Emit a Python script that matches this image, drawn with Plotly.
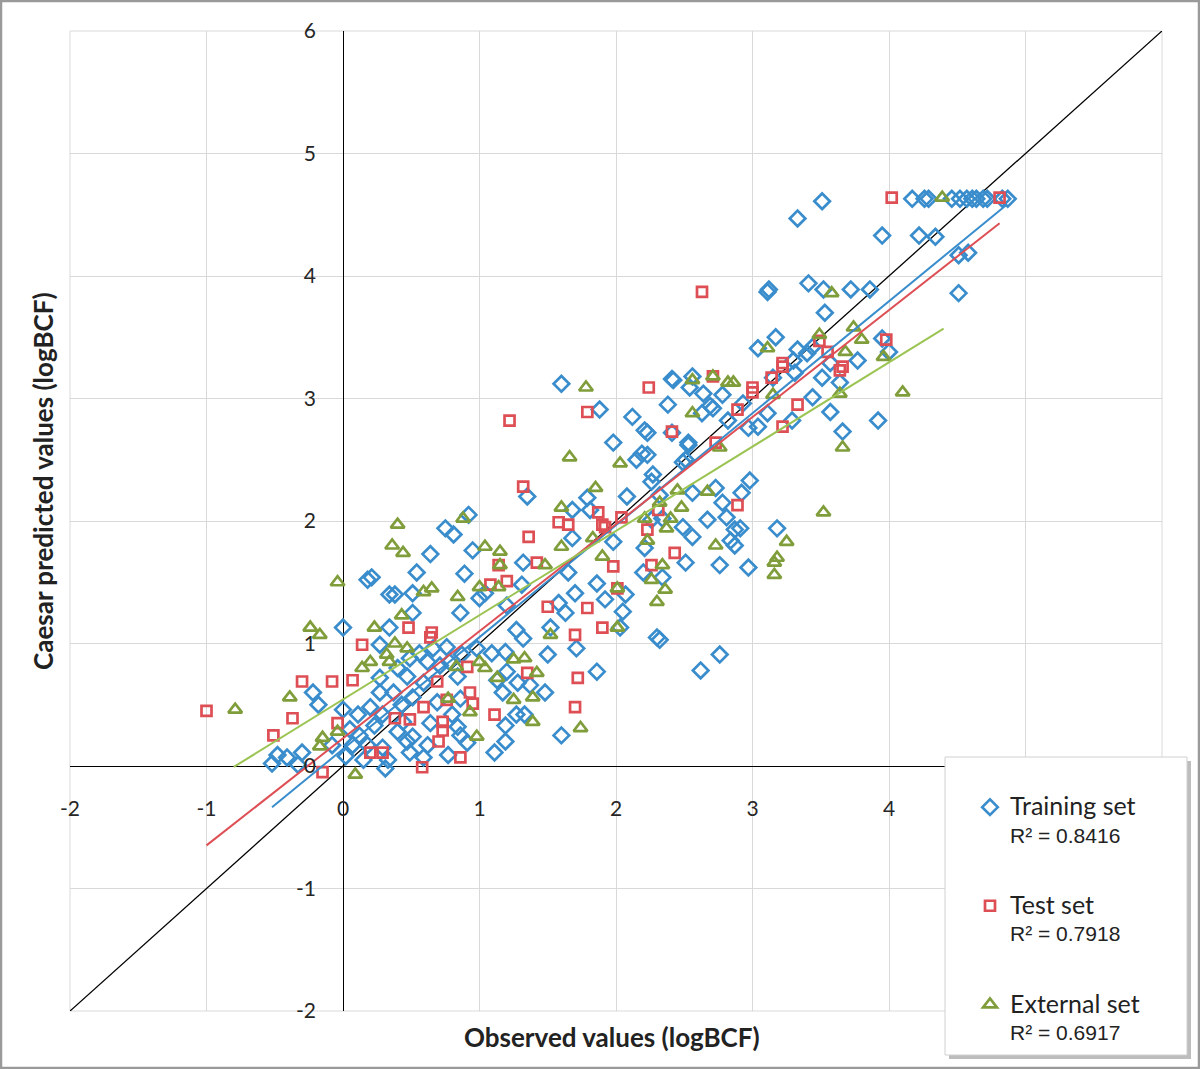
import plotly.graph_objects as go

# ---------------- data ----------------
train_x = [4.17,4.26,4.29,4.46,4.52,4.57,4.61,4.64,4.69,4.72,4.83,4.87,
           3.51,3.33,3.95,4.22,4.34,4.51,4.58,4.51,
           3.11,3.12,3.41,3.52,3.72,3.86,3.53,3.17,3.04,3.95,4.00,
           3.33,3.40,3.30,3.57,3.77,3.44,
           3.15,3.31,3.51,3.64,3.44,3.57,3.66,3.92,3.11,3.04,2.97,3.29,2.98,2.92,3.18,2.91,2.97,
           1.60,1.88,2.41,2.42,2.56,2.54,2.64,2.78,2.69,2.71,2.38,2.63,2.12,2.21,2.23,2.41,1.98,2.53,2.82,2.93,
           2.19,2.23,2.15,2.53,2.49,2.27,2.26,1.79,2.08,2.32,2.56,2.73,1.68,1.81,2.34,2.26,2.67,2.78,2.81,
           2.87,2.84,2.87,2.76,2.49,2.56,1.68,1.98,2.21,2.20,2.51,1.65,1.86,2.34,1.70,1.92,2.07,1.58,2.05,
           1.63,2.03,2.30,2.51,
           2.32,1.71,1.86,1.60,2.62,2.76,
           0.92,0.75,0.81,0.64,0.95,1.35,1.32,0.54,0.89,0.21,0.18,0.34,0.38,0.51,1.00,1.04,1.31,1.20,0.51,
           0.86,0.34,1.27,1.52,
           0.27,0.56,0.66,0.76,0.87,0.98,1.09,1.19,1.32,1.50,1.20,0.78,0.71,0.62,0.49,0.40,0.27,0.47,0.59,
           0.84,1.13,1.28,1.37,1.48,1.17,0.27,0.37,0.51,0.86,0.69,0.43,0.20,0.29,0.44,0.80,1.27,1.33,1.19,
           0.64,0.23,0.40,0.84,0.86,0.51,0.47,0.62,0.91,1.19,1.11,0.29,0.49,0.77,0.59,0.33,0.31,
           0.00,-0.22,-0.18,0.00,0.11,-0.48,-0.52,-0.41,-0.30,-0.33,-0.08,0.07,0.18,
           0.05,0.12,0.02,0.15]
train_y = [4.63,4.63,4.63,4.63,4.63,4.63,4.63,4.63,4.63,4.63,4.63,4.63,
           4.61,4.47,4.33,4.33,4.32,4.17,4.19,3.86,
           3.87,3.89,3.94,3.89,3.89,3.89,3.70,3.50,3.41,3.49,3.38,
           3.40,3.37,3.31,3.29,3.31,3.42,
           3.17,3.21,3.17,3.13,3.01,2.89,2.73,2.82,2.88,2.77,2.76,2.82,2.33,2.23,1.94,1.94,1.62,
           3.12,2.91,3.16,3.15,3.18,3.09,3.04,3.03,2.94,2.92,2.95,2.88,2.85,2.74,2.72,2.72,2.64,2.64,2.82,2.96,
           2.55,2.54,2.50,2.62,2.48,2.38,2.32,2.19,2.20,2.21,2.23,2.27,2.09,2.09,2.02,2.01,2.01,2.15,2.03,
           1.93,1.84,1.80,1.64,1.95,1.87,1.86,1.83,1.78,1.58,1.66,1.58,1.49,1.54,1.41,1.36,1.40,1.33,1.26,
           1.25,1.13,1.05,2.50,
           1.03,0.96,0.77,0.25,0.78,0.91,
           2.05,1.94,1.89,1.73,1.76,2.20,1.66,1.58,1.57,1.54,1.52,1.40,1.40,1.41,1.37,1.41,1.48,1.31,1.25,
           1.25,1.13,1.11,1.13,
           0.99,0.92,0.96,0.97,0.91,0.96,0.92,0.93,1.04,0.91,0.77,0.85,0.82,0.85,0.88,0.80,0.72,0.73,0.68,
           0.73,0.70,0.68,0.66,0.60,0.60,0.60,0.60,0.56,0.55,0.52,0.50,0.48,0.42,0.36,0.42,0.42,0.42,0.33,
           0.35,0.33,0.28,0.32,0.25,0.24,0.20,0.17,0.19,0.20,0.11,0.15,0.11,0.09,0.07,0.05,-0.02,
           1.13,0.60,0.50,0.46,0.42,0.09,0.02,0.07,0.11,0.01,0.17,0.17,0.17,
           0.30,0.25,0.08,0.05]

test_x = [4.02,4.81,2.63,2.24,1.22,1.79,2.71,2.89,2.41,2.73,
          3.64,3.00,3.00,3.14,3.22,3.33,3.22,3.49,3.98,3.22,3.66,3.55,
          2.89,1.87,2.04,2.31,1.58,1.65,1.90,1.92,2.23,2.43,1.98,2.26,2.01,1.79,1.90,1.70,
          1.72,1.70,
          1.36,1.14,1.42,1.08,1.20,1.50,0.48,0.65,1.32,
          0.64,1.35,0.91,0.69,0.93,0.76,0.95,0.59,0.38,0.49,0.73,1.11,0.73,0.70,0.29,0.20,0.86,0.58,
          0.14,-0.30,-0.08,0.07,-1.00,-0.37,-0.51,-0.04,-0.15]
test_y = [4.64,4.64,3.87,3.09,2.82,2.89,3.18,2.91,2.73,2.64,
          3.23,3.09,3.05,3.17,3.26,2.95,2.77,3.47,3.48,3.29,3.26,3.38,
          2.13,2.07,2.03,2.09,1.99,1.97,1.97,1.95,1.93,1.74,1.63,1.64,1.45,1.29,1.13,1.07,
          0.72,0.48,
          1.87,1.64,1.66,1.48,1.51,1.30,1.13,1.09,2.28,
          1.05,0.76,0.81,0.69,0.60,0.54,0.51,0.48,0.39,0.38,0.36,0.42,0.29,0.20,0.11,0.11,0.07,-0.01,
          0.99,0.69,0.69,0.70,0.45,0.39,0.25,0.35,-0.05]

ext_x = [3.58,3.74,3.80,3.49,3.11,3.68,3.96,3.64,4.10,3.66,3.52,3.25,3.18,3.16,3.16,3.15,4.39,
         1.78,2.56,2.71,2.82,2.86,2.56,
         1.66,2.03,2.76,1.85,2.45,2.67,1.60,2.48,2.32,2.21,2.40,2.37,1.83,1.60,1.90,2.23,2.73,2.34,
         2.26,2.01,2.36,2.30,2.01,
         1.74,
         0.40,0.88,0.36,0.44,1.04,1.15,1.15,1.48,1.00,1.14,0.59,0.65,0.84,0.43,0.23,1.52,
         0.38,0.47,1.25,1.33,1.42,1.04,1.00,0.83,0.34,0.32,0.20,1.13,1.25,1.39,0.77,0.93,1.39,0.98,
         0.14,-0.39,-0.79,-0.04,-0.15,-0.17,0.09,
         -0.04,-0.24,-0.17]
ext_y = [3.86,3.58,3.48,3.52,3.41,3.38,3.34,3.04,3.05,2.60,2.07,1.83,1.70,1.66,1.56,3.03,4.64,
         3.09,3.15,3.18,3.13,3.13,2.88,
         2.52,2.47,2.60,2.27,2.25,2.24,2.11,2.11,2.15,2.02,2.02,1.94,1.86,1.79,1.71,1.84,1.80,1.64,
         1.52,1.45,1.44,1.34,1.13,
         0.31,
         1.97,2.02,1.80,1.74,1.79,1.75,1.64,1.64,1.46,1.46,1.42,1.45,1.38,1.23,1.13,1.07,
         1.00,0.96,0.87,0.88,0.76,0.80,0.85,0.81,0.85,0.91,0.85,0.72,0.54,0.56,0.55,0.44,0.36,0.24,
         0.80,0.56,0.46,0.28,0.23,0.16,-0.07,
         1.50,1.13,1.07]

# linear trend lines: slope, intercept, x-extent
trend_train = dict(slope=0.914, intercept=0.138, x=[-0.52, 4.86])
trend_test = dict(slope=0.874, intercept=0.226, x=[-1.00, 4.81])
trend_ext = dict(slope=0.688, intercept=0.543, x=[-0.80, 4.40])
identity_x = [-2, 6]

r2_train, r2_test, r2_ext = "0.8416", "0.7918", "0.6917"
tick_vals = [-2, -1, 0, 1, 2, 3, 4, 5, 6]
x_tick_text = ["-2", "-1", "0", "1", "2", "3", "4", "", ""]
y_tick_text = ["-2", "-1", "0", "1", "2", "3", "4", "5", "6"]

# ---------------- styling ----------------
C_BLUE = "#3A8DCC"
C_RED = "#DE4F55"
C_GREEN = "#7F9D3A"
C_GREEN_LINE = "#9BC453"
FONT = "Lato"

W, H = 1200, 1069
L, R, T, B = 70, 38, 31, 58
PW, PH = W - L - R, H - T - B


def fx(px):
    return (px - L) / PW


def fy(py):
    return (H - B - py) / PH


def legend_name(label, r2):
    return ("<span style='font-size:25px;font-family:Lato'>" + label + "</span><br>"
            "<span style='font-size:21px'>R² = " + r2 + "</span>")


fig = go.Figure()

# identity line
fig.add_trace(go.Scatter(x=identity_x, y=identity_x, mode="lines",
                         line=dict(color="black", width=1.3), showlegend=False, hoverinfo="skip"))

fig.add_trace(go.Scatter(
    x=train_x, y=train_y, mode="markers", legendgroup="a",
    name=legend_name("Training set", r2_train),
    marker=dict(symbol="diamond-open", size=12, color=C_BLUE, line=dict(width=2.7, color=C_BLUE))))
fig.add_trace(go.Scatter(
    x=test_x, y=test_y, mode="markers", legendgroup="b",
    name=legend_name("Test set", r2_test),
    marker=dict(symbol="square-open", size=10, color=C_RED, line=dict(width=2.7, color=C_RED))))
fig.add_trace(go.Scatter(
    x=ext_x, y=ext_y, mode="markers", legendgroup="c",
    name=legend_name("External set", r2_ext),
    marker=dict(symbol="triangle-up-open", size=12, color=C_GREEN, line=dict(width=2.7, color=C_GREEN))))

for tr, col in [(trend_train, C_BLUE), (trend_test, C_RED), (trend_ext, C_GREEN_LINE)]:
    ys = [tr["slope"] * v + tr["intercept"] for v in tr["x"]]
    fig.add_trace(go.Scatter(x=tr["x"], y=ys, mode="lines", line=dict(color=col, width=2),
                             showlegend=False, hoverinfo="skip"))

axis_common = dict(
    range=[-2, 6], tickvals=tick_vals, showgrid=True, gridcolor="#D9D9D9", gridwidth=1,
    zeroline=True, zerolinecolor="black", zerolinewidth=1, showline=False, ticks="",
    tickfont=dict(family=FONT, size=21, color="#262626"), anchor="free", position=0.25,
    automargin=False,
)
fig.update_xaxes(**axis_common, ticktext=x_tick_text, ticklabelstandoff=28)
fig.update_yaxes(**axis_common, ticktext=y_tick_text, ticklabelstandoff=27)

shapes = [
    # plot frame
    dict(type="rect", xref="paper", yref="paper", x0=0, x1=1, y0=0, y1=1,
         line=dict(color="#D9D9D9", width=1), layer="below"),
    # outer image border
    dict(type="rect", xref="paper", yref="paper", x0=fx(1), x1=fx(W - 1), y0=fy(1), y1=fy(H - 1),
         line=dict(color="#9A9A9A", width=2.5), layer="above"),
    # legend shadow
    dict(type="rect", xref="paper", yref="paper", x0=fx(949), x1=fx(1191), y0=fy(761), y1=fy(1059),
         line=dict(width=0), fillcolor="#BDBDBD", layer="above"),
    # legend box
    dict(type="rect", xref="paper", yref="paper", x0=fx(945), x1=fx(1187), y0=fy(757), y1=fy(1055),
         line=dict(color="#D0D0D0", width=1), fillcolor="white", layer="above"),
]

annotations = [
    dict(text="<b>Observed values (logBCF)</b>", xref="paper", yref="paper", x=fx(612), y=fy(1037),
         xanchor="center", yanchor="middle", showarrow=False, font=dict(family=FONT, size=26, color="#222")),
    dict(text="<b>Caesar predicted values (logBCF)</b>", xref="paper", yref="paper", x=fx(43), y=fy(481),
         xanchor="center", yanchor="middle", showarrow=False, textangle=-90,
         font=dict(family=FONT, size=26, color="#222")),
]

fig.update_layout(
    width=W, height=H, margin=dict(l=L, r=R, t=T, b=B, autoexpand=False),
    plot_bgcolor="white", paper_bgcolor="white",
    shapes=shapes, annotations=annotations,
    legend=dict(xref="container", yref="container", x=970 / W, y=1 - 787 / H,
                xanchor="left", yanchor="top",
                bgcolor="rgba(0,0,0,0)", borderwidth=0, tracegroupgap=41, valign="top",
                font=dict(family="Liberation Sans", size=21, color="#222"), traceorder="grouped"),
)

fig.write_html(
    "out.html",
    config={"displayModeBar": False},
    post_script="document.body.style.margin='0';document.body.style.padding='0';"
                "document.body.style.overflow='hidden';",
)
